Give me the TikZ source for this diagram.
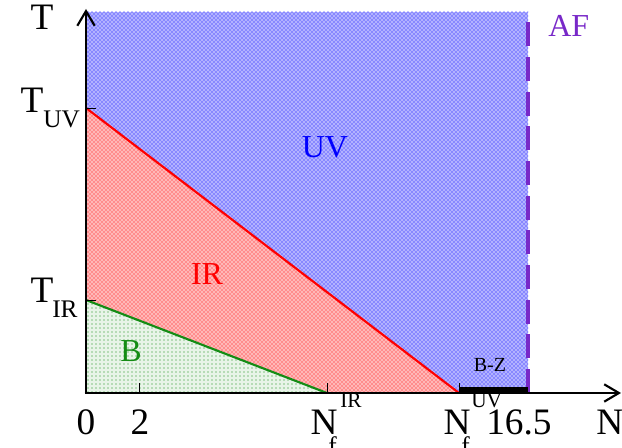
\documentclass[tikz,border=0pt]{standalone}
\usepackage{fontspec}
\setmainfont{Liberation Serif}
\usetikzlibrary{arrows.meta,patterns}
\definecolor{afviolet}{RGB}{120,40,200}
\definecolor{bgreen}{RGB}{20,140,20}
\begin{document}
\begin{tikzpicture}[x=0.75pt,y=-0.75pt,
  big/.style={inner sep=0pt, anchor=base, font=\fontsize{28}{30}\selectfont},
  subl/.style={inner sep=0pt, anchor=base west, font=\fontsize{19}{21}\selectfont},
  supl/.style={inner sep=0pt, anchor=base west, font=\fontsize{16}{18}\selectfont},
  region/.style={inner sep=0pt, anchor=base, font=\fontsize{24}{26}\selectfont},
  axis/.style={line width=1.9pt, -{Straight Barb[length=11pt,width=13pt,line width=1.6pt]}},
  tick/.style={line width=0.6pt},
  bound/.style={line width=1.6pt}]
\useasboundingbox (0,0) rectangle (622,448);
\coordinate (o) at (86,393);
\coordinate (ytop) at (86,9);
\coordinate (xend) at (621,393);
\coordinate (tuv) at (86,108);
\coordinate (tir) at (86,300);
\coordinate (nir) at (327,393);
\coordinate (nuv) at (459,393);
\coordinate (afb) at (528,393);
\coordinate (aftop) at (528,12);
% regions
\fill[blue!30] (o) rectangle (aftop);
\fill[pattern=crosshatch dots, pattern color=blue] (o) rectangle (aftop);
\fill[white] (o) -- (tuv) -- (nuv) -- cycle;
\fill[red!28] (o) -- (tuv) -- (nuv) -- cycle;
\fill[pattern=crosshatch dots, pattern color=red] (o) -- (tuv) -- (nuv) -- cycle;
\fill[white] (o) -- (tir) -- (nir) -- cycle;
\fill[bgreen!10] (o) -- (tir) -- (nir) -- cycle;
\fill[pattern=dots, pattern color=bgreen] (o) -- (tir) -- (nir) -- cycle;
% boundaries
\draw[bound, red] (tuv) -- (nuv);
\draw[bound, bgreen] (tir) -- (nir);
\draw[line width=2.4pt, afviolet, dash pattern=on 18pt off 8pt] (afb) -- (aftop);
\draw[line width=4.5pt] (459,390.5) coordinate (bzl) -- (528,390.5) coordinate (bzr);
% ticks
\draw[tick] (tuv) -- ++(10,0);
\draw[tick] (tir) -- ++(10,0);
\coordinate (two) at (139,393);
\draw[tick] (two) -- ++(0,-10);
\draw[tick] (nir) -- ++(0,-10);
\draw[tick] (nuv) -- ++(0,-10);
% axes
\draw[axis] (o) -- (ytop);
\draw[axis] ([xshift=-1pt]o) -- (xend);
% labels
\node[big] (lT) at (42,30) {T};
\node[big] (lTuv) at (32,113) {T};
\node[subl] (lTuvs) at (43,128) {UV};
\node[big] (lTir) at (42,303) {T};
\node[subl] (lTirs) at (52,318) {IR};
\node[big] (l0) at (86,435) {0};
\node[big] (l2) at (140,435) {2};
\node[big] (lNir) at (324,435) {N};
\node[supl] (lNirsup) at (340,408) {IR};
\node[subl] (lNirsub) at (328,455) {f};
\node[big] (lNuv) at (457,435) {N};
\node[supl] (lNuvsup) at (471,408) {UV};
\node[subl] (lNuvsub) at (461,455) {f};
\node[big, anchor=base west] (l165) at (486,435) {16.5};
\node[big, anchor=base west] (lN) at (596,435) {N};
\node[region, anchor=base west, text=afviolet] (lAF) at (548,37) {AF};
\node[region, text=blue] (lUV) at (325,158) {UV};
\node[region, text=red] (lIR) at (207,285) {IR};
\node[region, text=bgreen] (lB) at (131,362) {B};
\node[inner sep=0pt, anchor=base, font=\fontsize{15}{17}\selectfont] (lBZ) at (490,372) {B-Z};
\end{tikzpicture}
\end{document}
